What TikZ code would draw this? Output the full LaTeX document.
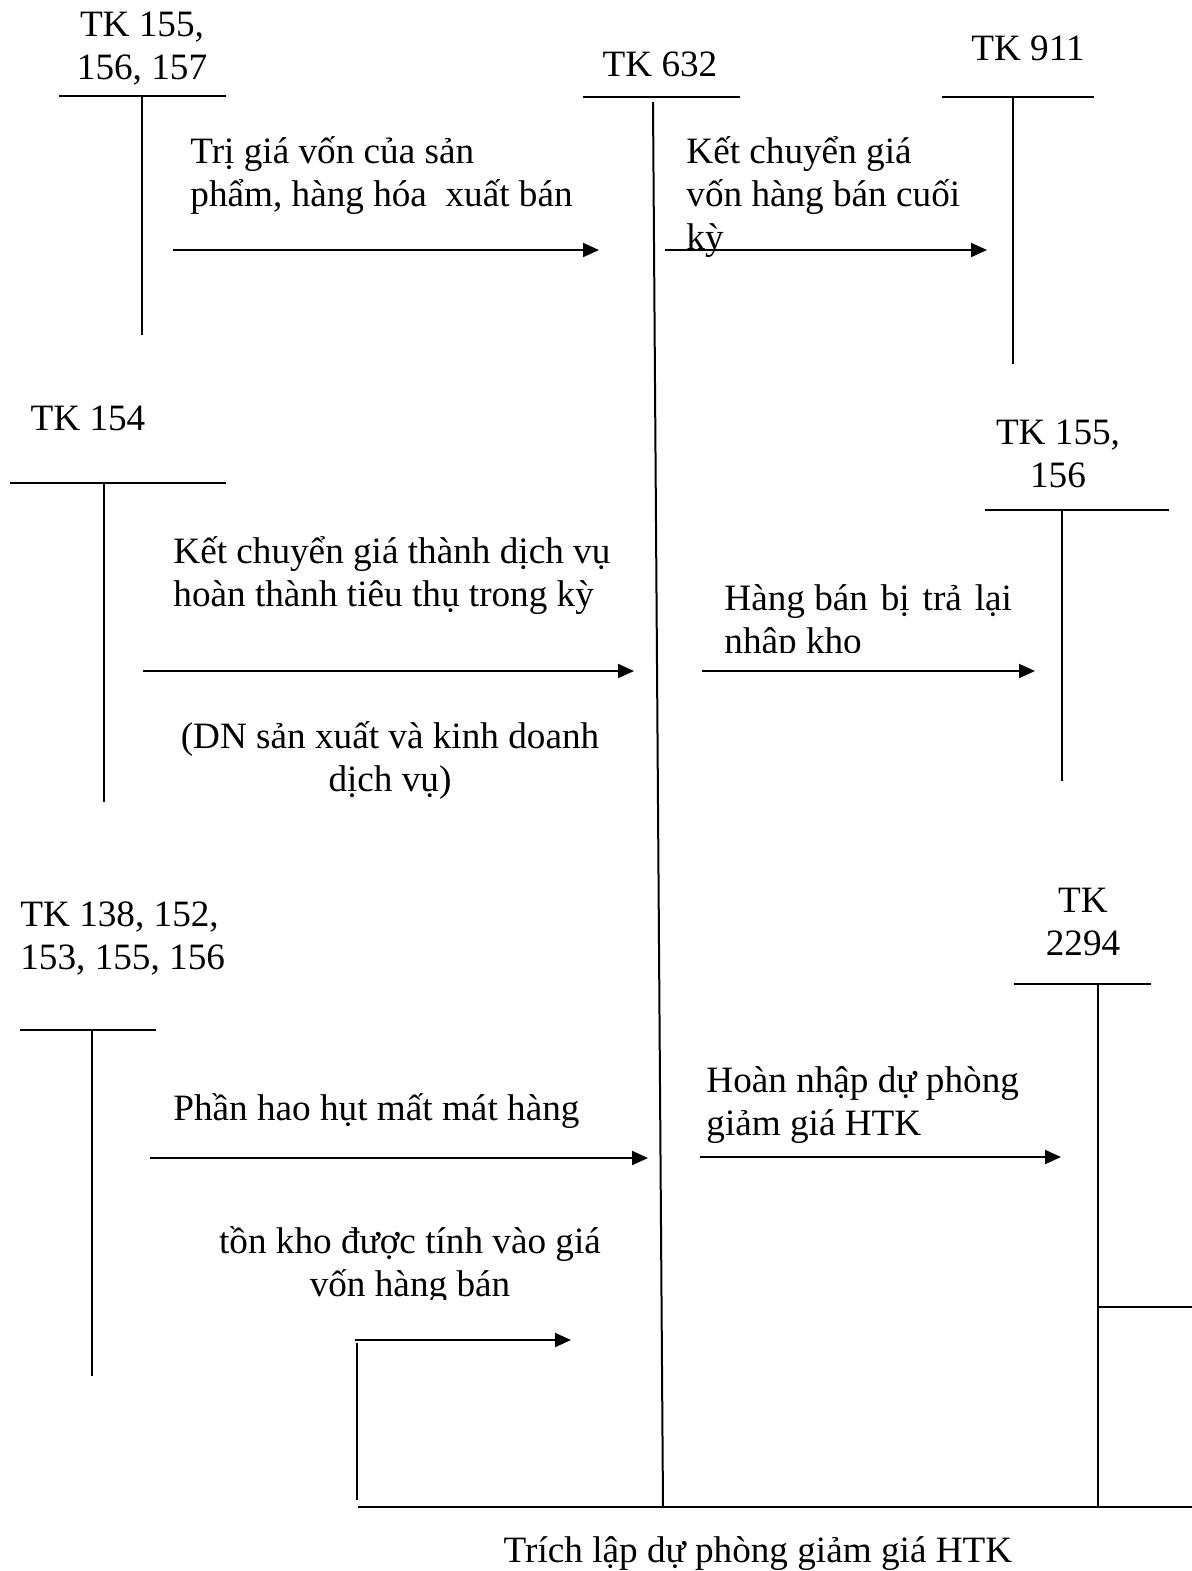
\documentclass[tikz,border=0pt]{standalone}
\usepackage{fontspec}
\setmainfont{Liberation Serif}
\usetikzlibrary{arrows.meta}
\tikzset{
  acct/.style={line width=1pt},
  flow/.style={line width=1pt,-{Triangle[length=8pt,width=7pt]}},
  lbl/.style={inner sep=0pt,font=\fontsize{18.6pt}{21.5pt}\selectfont},
}
\newcommand\wsp{\ \hspace{1.8pt}}
\begin{document}
\begin{tikzpicture}[x=0.5pt,y=-0.5pt]
\useasboundingbox (0,0) rectangle (1192,1571);

% ---- account headings (base = baseline of the last line) ----
\node[lbl,align=center,anchor=base] (h155a) at (142,79) {TK 155,\\156, 157};
\node[lbl,anchor=base] (h632) at (660,76) {TK 632};
\node[lbl,anchor=base] (h911) at (1028,60) {TK 911};
\node[lbl,anchor=base] (h154) at (88,430) {TK 154};
\node[lbl,align=center,anchor=base] (h155b) at (1058,487) {TK 155,\\156};
\node[lbl,align=left,anchor=base west] (h138) at (20,969) {TK 138, 152,\\153, 155, 156};
\node[lbl,align=center,anchor=base] (h2294) at (1083,955) {TK\\2294};

% ---- T-accounts ----
\coordinate (a1l) at (59,96);   \coordinate (a1r) at (226,96);
\coordinate (a1t) at (142,96);  \coordinate (a1b) at (142,335);
\coordinate (a2l) at (583,97);  \coordinate (a2r) at (740,97);
\coordinate (a2t) at (653,102); \coordinate (a2b) at (663,1507);
\coordinate (a3l) at (942,97);  \coordinate (a3r) at (1094,97);
\coordinate (a3t) at (1013,97); \coordinate (a3b) at (1013,364);
\coordinate (a4l) at (10,483);  \coordinate (a4r) at (226,483);
\coordinate (a4t) at (104,483); \coordinate (a4b) at (104,802);
\coordinate (a5l) at (985,510); \coordinate (a5r) at (1169,510);
\coordinate (a5t) at (1062,510);\coordinate (a5b) at (1062,781);
\coordinate (a6l) at (20,1030); \coordinate (a6r) at (156,1030);
\coordinate (a6t) at (92,1030); \coordinate (a6b) at (92,1376);
\coordinate (a7l) at (1014,984);\coordinate (a7r) at (1151,984);
\coordinate (a7t) at (1098,984);\coordinate (a7b) at (1098,1507);

\foreach \k in {1,...,7}{
  \draw[acct] (a\k l) -- (a\k r);
  \draw[acct] (a\k t) -- (a\k b);
}

% ---- entries between accounts ----
\coordinate (e1s) at (173,250); \coordinate (e1e) at (599,250);
\coordinate (e2s) at (665,250); \coordinate (e2e) at (987,250);
\coordinate (e3s) at (143,671); \coordinate (e3e) at (634,671);
\coordinate (e4s) at (702,671); \coordinate (e4e) at (1035,671);
\coordinate (e5s) at (150,1158);\coordinate (e5e) at (648,1158);
\coordinate (e6s) at (700,1157);\coordinate (e6e) at (1061,1157);
\foreach \k in {1,...,6}{ \draw[flow] (e\k s) -- (e\k e); }

\node[lbl,align=left,anchor=base west] (t1) at (190,206)
  {Trị giá vốn của sản\\phẩm, hàng hóa\ \ xuất bán};
\node[lbl,align=left,anchor=base west] (t2) at (686,249)
  {Kết chuyển giá\\vốn hàng bán cuối\\kỳ};
\node[lbl,align=left,anchor=base west] (t3) at (173,606)
  {Kết chuyển giá thành dịch vụ\\hoàn thành tiêu thụ trong kỳ};
\node[lbl,align=center,anchor=base] (t3n) at (390,791)
  {(DN sản xuất và kinh doanh\\dịch vụ)};
\begin{scope}
  \clip (700,560) rectangle (1060,652);
  \node[lbl,align=left,anchor=base west] (t4) at (724,653)
    {Hàng bán\wsp bị\wsp trả\wsp lại\\nhập kho};
\end{scope}
\node[lbl,anchor=base west] (t5) at (173,1120) {Phần hao hụt mất mát hàng};
\begin{scope}
  \clip (200,1200) rectangle (640,1299);
  \node[lbl,align=center,anchor=base] (t5n) at (410,1296)
    {tồn kho được tính vào giá\\vốn hàng bán};
\end{scope}
\node[lbl,align=left,anchor=base west] (t6) at (706,1135)
  {Hoàn nhập dự phòng\\giảm giá HTK};

% ---- provision entry, returned along the bottom ----
\coordinate (p1) at (1192,1307);
\coordinate (p2) at (1192,1507);
\coordinate (p3) at (358,1507);
\coordinate (p4) at (357,1500);
\coordinate (p5) at (357,1343);
\coordinate (p6) at (355,1340);
\coordinate (p7) at (571,1340);
\draw[acct] (a7b |- p1) -- (p1);
\draw[acct] (p2) -- (p3);
\draw[acct] (p4) -- (p5);
\draw[flow] (p6) -- (p7);
\node[lbl,anchor=base] (t7) at (758,1562) {Trích lập dự phòng giảm giá HTK};
\end{tikzpicture}
\end{document}
